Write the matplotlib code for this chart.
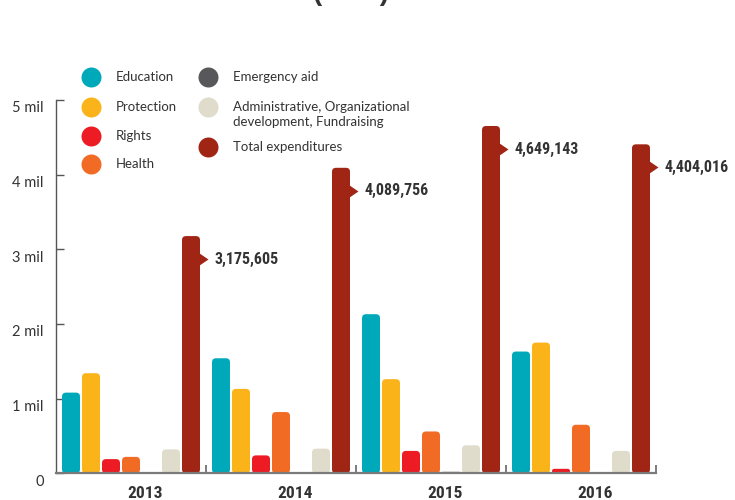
import matplotlib
matplotlib.use("Agg")
import os
import matplotlib.pyplot as plt
from matplotlib.patches import FancyBboxPatch
from matplotlib.lines import Line2D
from matplotlib import transforms, font_manager
from matplotlib.font_manager import FontProperties

# ---------------- data ----------------
years = ["2013", "2014", "2015", "2016"]
series_names = ["Education", "Protection", "Rights", "Health", "Emergency aid",
                "Administrative, Organizational\ndevelopment, Fundraising",
                "Total expenditures"]
education = [1080000, 1540000, 2130000, 1630000]
protection = [1340000, 1130000, 1260000, 1750000]
rights = [190000, 240000, 300000, 60000]
health = [220000, 820000, 560000, 650000]
emergency = [0, 0, 20000, 15000]
admin = [320000, 330000, 375000, 300000]
total = [3175605, 4089756, 4649143, 4404016]
y_ticks = [0, 1000000, 2000000, 3000000, 4000000, 5000000]
y_tick_labels = ["0", "1 mil", "2 mil", "3 mil", "4 mil", "5 mil"]
title_text = "(EUR)"

series = [education, protection, rights, health, emergency, admin, total]
colors = ["#00A9BA", "#FBB31A", "#ED1C24", "#F26B24", "#58585A", "#DFDCCB", "#A02515"]

# ---------------- fonts ----------------
names = {f.name for f in font_manager.fontManager.ttflist}
text_font = "Lato" if "Lato" in names else "DejaVu Sans"
text_col = "#333333"


def find_condensed_bold():
    prefs = ["robotocondensed-bold", "liberationsansnarrow-bold", "opensans_condensed-bold",
             "opensanscondensed-bold", "opensans-condensedbold", "notosans-condensedbold",
             "lato-bold", "dejavusanscondensed-bold"]
    files = {os.path.basename(f.fname).lower(): f.fname for f in font_manager.fontManager.ttflist}
    for p in prefs:
        for base, path in files.items():
            if base.startswith(p):
                return FontProperties(fname=path), ("condensed" in base or "narrow" in base)
    return FontProperties(family="DejaVu Sans", weight="bold"), False


cond_fp, is_cond = find_condensed_bold()
num_size = 11.5 if is_cond else 10.5

W, H = 735, 500
fig = plt.figure(figsize=(W / 100, H / 100), dpi=100)
ax = fig.add_axes([56 / W, (H - 473.3) / H, 600 / W, 373.5 / H])
ax.set_xlim(0, 30)
ax.set_ylim(0, 5000000)

group_w = 7.5
bar_w = 0.9

x_per_px = 30 / 600
y_per_px = 5000000 / 373.5
aspect = y_per_px / x_per_px
r_px = 4

for i, (vals, c) in enumerate(zip(series, colors)):
    xs = [g * group_w + 0.75 + i for g in range(len(years))]
    bars = ax.bar(xs, vals, width=bar_w, color=c)
    for rect in bars.patches:
        x0, y0 = rect.get_x(), rect.get_y()
        w, h = rect.get_width(), rect.get_height()
        rect.remove()
        if h <= 0:
            continue
        r = min(r_px * x_per_px, w / 2, (h / aspect) / 2)
        p = FancyBboxPatch((x0, y0), w, h,
                           boxstyle=f"round,pad=0,rounding_size={r}",
                           mutation_aspect=aspect, fc=c, ec="none", zorder=2)
        ax.add_patch(p)

# total callouts
tri = [(-0.1, -0.75), (1, 0), (-0.1, 0.75)]
off = transforms.offset_copy(ax.transData, fig=fig, x=0, y=-23, units="dots")
num_fp = cond_fp.copy()
num_fp.set_size(num_size)
for g, t in enumerate(total):
    xr = g * group_w + 0.75 + 6 + bar_w / 2
    ax.plot([xr], [t], marker=tri, ms=11.5, color=colors[6], mec="none",
            transform=off, zorder=3, clip_on=False)
    ax.annotate(f"{t:,}", xy=(xr, t), xytext=(10.5, -16.6), textcoords="offset points",
                va="center", ha="left", fontproperties=num_fp, color=text_col)

# spines
for s in ["top", "right"]:
    ax.spines[s].set_visible(False)
ax.spines["left"].set_color("#555555")
ax.spines["left"].set_linewidth(1.0)
ax.spines["bottom"].set_color("#7a7a7a")
ax.spines["bottom"].set_linewidth(1.6)

# y ticks
ax.set_yticks(y_ticks)
ax.set_yticklabels(y_tick_labels)
ax.tick_params(axis="y", direction="in", length=6, width=1, color="#555555",
               pad=9, labelsize=10.5, labelcolor=text_col)
for lab in ax.get_yticklabels():
    lab.set_family(text_font)
    lab.set_transform(lab.get_transform() +
                      transforms.ScaledTranslation(0, -7 / 100, fig.dpi_scale_trans))

# x ticks: separators (major) and year labels (minor)
ax.set_xticks([group_w * (g + 1) for g in range(len(years))])
ax.set_xticklabels([])
ax.tick_params(axis="x", which="major", direction="in", length=6, width=1.2,
               color="#666666")
ax.set_xticks([g * group_w + 4.45 for g in range(len(years))], minor=True)
ax.set_xticklabels(years, minor=True)
ax.tick_params(axis="x", which="minor", length=0, pad=9, labelcolor=text_col)
year_fp = cond_fp.copy()
year_fp.set_size(12.5 if is_cond else 11)
for lab in ax.get_xticklabels(minor=True):
    lab.set_fontproperties(year_fp)

# legend (figure pixel coordinates)
def fx(x):
    return x / W


def fy(y):
    return 1 - y / H


legend_pos = [(90.7, 77.3), (90.7, 106.7), (90.7, 135.7), (90.7, 164.0),
              (208.0, 77.3), (208.0, 106.7), (208.0, 146.7)]
for name, c, (cx, cy) in zip(series_names, colors, legend_pos):
    fig.add_artist(Line2D([fx(cx)], [fy(cy)], marker="o", ms=14.4, color=c,
                          mec="none", transform=fig.transFigure))
    for k, line in enumerate(name.split("\n")):
        fig.text(fx(cx + 25.3), fy(cy + k * 15.6), line, va="center", ha="left",
                 fontsize=9.5, family=text_font, color=text_col)

# clipped title remnant at the very top
fig.text(fx(351), fy(-0.5), title_text, ha="center", va="baseline",
         fontsize=20, fontweight="bold", family="Liberation Sans", color=text_col)

fig.savefig("out.png", dpi=100)
